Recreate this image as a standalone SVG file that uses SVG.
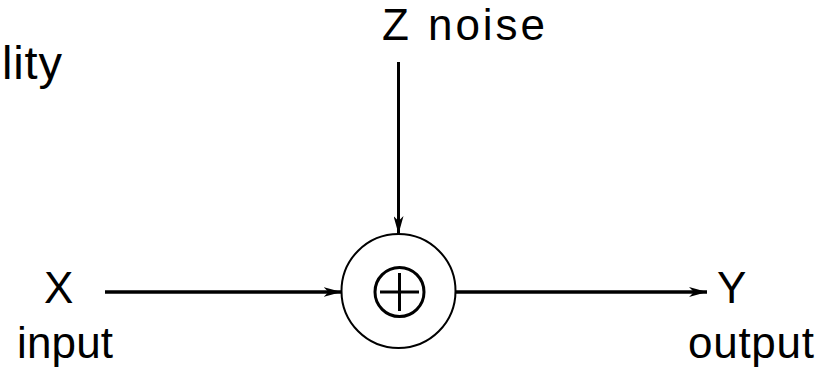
<svg xmlns="http://www.w3.org/2000/svg" width="823" height="371" viewBox="0 0 823 371">
<style>
.t{font-family:"Liberation Sans","DejaVu Sans",sans-serif;font-size:44px;fill:#000}
.c{fill:none;stroke:#000;stroke-width:3}
</style>
<defs>
<marker id="ah" markerWidth="18" markerHeight="10" refX="18" refY="5" orient="auto" markerUnits="userSpaceOnUse">
<path d="M0,0 L18,5 L0,10 L5,5 Z" fill="#000"/>
</marker>
</defs>
<rect width="823" height="371" fill="#fff"/>
<g id="title"><text class="t" x="2" y="79" style="font-size:47px" textLength="60">lity</text></g>
<g id="noise"><text class="t" x="382" y="40">Z<tspan x="428" textLength="117">noise</tspan></text></g>
<g id="input"><text class="t" x="44" y="303">X</text><text class="t" x="17" y="358" textLength="96">input</text></g>
<g id="output"><text class="t" x="717" y="303">Y</text><text class="t" x="688" y="358" textLength="126">output</text></g>
<g id="adder">
<circle cx="398.5" cy="291" r="57" fill="#fff" stroke="#000" stroke-width="2"/>
<circle class="c" cx="399.5" cy="292" r="24.5"/>
<line class="c" x1="380" y1="292" x2="419" y2="292"/>
<line class="c" x1="399.5" y1="273" x2="399.5" y2="311"/>
</g>
<g id="connectors" stroke="#000" fill="none">
<line x1="398.5" y1="62" x2="398.5" y2="234" stroke-width="3" marker-end="url(#ah)"/>
<line x1="105" y1="292" x2="341.5" y2="292" stroke-width="3.5" marker-end="url(#ah)"/>
<line x1="456" y1="292" x2="707" y2="292" stroke-width="3.5" marker-end="url(#ah)"/>
</g>
</svg>
